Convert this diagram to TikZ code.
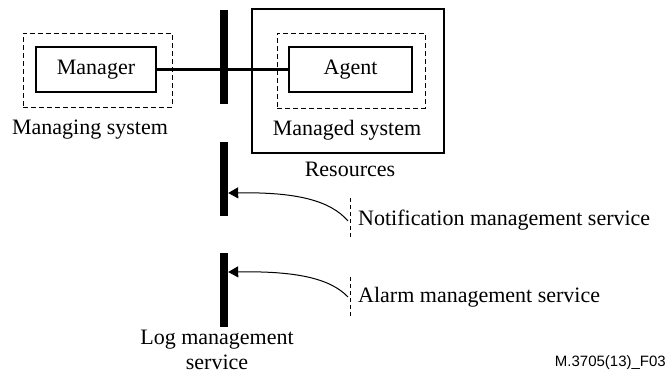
\documentclass[tikz,border=0pt]{standalone}
\usepackage{fontspec}
\setmainfont{Liberation Serif}
\newfontfamily\labelsans{Liberation Sans}
\usetikzlibrary{arrows.meta}
\begin{document}
\begin{tikzpicture}[x=1pt,y=-1pt,
  txt/.style={font=\fontsize{22}{25}\selectfont, inner sep=0pt},
  solidbox/.style={draw, line width=2.4pt, inner sep=0pt},
  dashbox/.style={draw, dashed, line width=0.9pt, dash pattern=on 5pt off 3pt, inner sep=0pt},
  bigbox/.style={draw, line width=2.2pt, inner sep=0pt},
  bar/.style={fill=black, draw=none, inner sep=0pt, minimum width=8pt},
  arr/.style={line width=1pt, -{Triangle[length=10pt,width=11pt]}},
  vdash/.style={dashed, line width=0.8pt, dash pattern=on 4pt off 3pt}]
\useasboundingbox (0,0) rectangle (666,376);
% Resources box
\node[bigbox, minimum width=192pt, minimum height=144pt] (res) at (348,81) {};
% dashed boxes
\node[dashbox, minimum width=149pt, minimum height=74pt] (msys) at (97.5,70) {};
\node[dashbox, minimum width=148pt, minimum height=75pt] (asys) at (351,70.5) {};
% solid boxes
\node[solidbox, minimum width=120pt, minimum height=45pt] (mgr) at (96,69.5) {};
\node[txt] at (mgr.center) {Manager};
\node[solidbox, minimum width=123pt, minimum height=45pt] (agt) at (350.5,69.5) {};
\node[txt] at (agt.center) {Agent};
% bars
\node[bar, minimum height=94pt] (bar1) at (224,57) {};
\node[bar, minimum height=74pt] (bar2) at (224,179) {};
\node[bar, minimum height=74pt] (bar3) at (224,290) {};
% connection
\draw[line width=2.2pt] (mgr.east) -- (agt.west);
% labels
\node[txt] (lms) at (90,130) {Managing system};
\node[txt] (lmd) at (347,130) {Managed system};
\node[txt] (lres) at (350,169) {Resources};
\node[txt, align=center] (llog) at (217,350) {Log management\\service};
% notification
\coordinate (n1t) at (350,198);
\coordinate (n1b) at (350,239);
\draw[vdash] (n1t) -- (n1b);
\node[txt, anchor=west] (lnot) at (358,220) {Notification management service};
\coordinate (n1s) at (348,221);
\draw[arr] (n1s) .. controls (330,200) and (295,192) .. (bar2.east |- 0,193);
% alarm
\coordinate (n2t) at (350,277);
\coordinate (n2b) at (350,316);
\draw[vdash] (n2t) -- (n2b);
\node[txt, anchor=west] (lalm) at (358,297) {Alarm management service};
\coordinate (n2s) at (348,297);
\draw[arr] (n2s) .. controls (330,278) and (295,271) .. (bar3.east |- 0,272);
% figure id
\node[font=\labelsans\fontsize{15}{18}\selectfont, inner sep=0pt, anchor=east] (fid) at (666,363) {M.3705(13)\_F03};
\end{tikzpicture}
\end{document}
